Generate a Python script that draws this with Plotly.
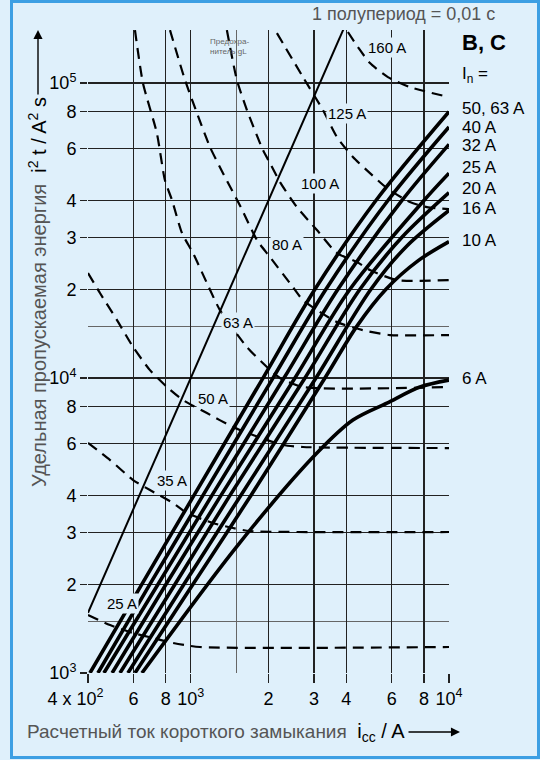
import plotly.graph_objects as go
import math

# ---------------- data ----------------
# Miniature circuit breakers B, C  (I_n)
MCB_names = ["50, 63 A", "40 A", "32 A", "25 A", "20 A", "16 A", "10 A", "6 A"]
MCB_63_x = [407, 647, 1029, 1904, 3026, 5212, 10000]
MCB_63_y = [1000, 2000, 4000, 10000, 20000, 40000, 80000]
MCB_40_x = [437, 695, 1115, 2081, 3338, 5800, 10000]
MCB_40_y = [1000, 2000, 4000, 10000, 20000, 40000, 71000]
MCB_32_x = [461, 747, 1208, 2296, 3715, 6573, 10000]
MCB_32_y = [1000, 2000, 4000, 10000, 20000, 40000, 62000]
MCB_25_x = [496, 802, 1309, 2532, 4134, 7997, 10000]
MCB_25_y = [1000, 2000, 4000, 10000, 20000, 40000, 49500]
MCB_20_x = [532, 869, 1418, 2768, 4520, 6573, 10000]
MCB_20_y = [1000, 2000, 4000, 10000, 20000, 30000, 42500]
MCB_16_x = [571, 941, 1562, 3053, 4985, 6856, 10000]
MCB_16_y = [1000, 2000, 4000, 10000, 20000, 28000, 37000]
MCB_10_x = [608, 1020, 1710, 3308, 4400, 5700, 7600, 10000]
MCB_10_y = [1000, 2000, 4000, 10000, 15000, 20000, 25000, 29000]
MCB_6_x = [647, 1523, 3080, 4245, 5749, 7717, 10000]
MCB_6_y = [1000, 2716, 5568, 7203, 8222, 9322, 9840]

# Fuses gL
FUSE_names = ["25 A", "35 A", "50 A", "63 A", "80 A", "100 A", "125 A", "160 A"]
F25_x = [400, 487, 598, 714, 853, 1086, 10000]
F25_y = [1573, 1454, 1366, 1314, 1264, 1225, 1225]
F35_x = [400, 487, 598, 695, 853, 967, 1219, 1456, 1695, 10000]
F35_y = [6023, 5272, 4511, 4172, 3771, 3486, 3225, 3101, 3029, 3006]
F50_x = [400, 445, 518, 598, 695, 809, 933, 1155, 1456, 1741, 2275, 2720, 10000]
F50_y = [22700, 19420, 15720, 12740, 10640, 9322, 8423, 7608, 6823, 6410, 5929, 5837, 5790]
F63_x = [608, 653, 739, 794, 846, 925, 1020, 1155, 1297, 1650, 1972, 2215, 2720, 10000]
F63_y = [151200, 100000, 67700, 46900, 40100, 31000, 26530, 20990, 17000, 12740, 10900, 10000, 9322, 9322]
F80_x = [831, 950, 1057, 1187, 1333, 1562, 1805, 2026, 2487, 2720, 3682, 4640, 5905, 10000]
F80_y = [151200, 102400, 79100, 60700, 49500, 37990, 29360, 25720, 20340, 18380, 15480, 14540, 13990, 13990]
F100_x = [1380, 1509, 1650, 1904, 2026, 2215, 2577, 3080, 3682, 4400, 4942, 6285, 10000]
F100_y = [151200, 102400, 81000, 59290, 53560, 46170, 37990, 31740, 26530, 24740, 23230, 21490, 21490]
F125_x = [2156, 2720, 3249, 3682, 4245, 4942, 5749, 7057, 8212, 10000]
F125_y = [147700, 104800, 81000, 65600, 56140, 49500, 44070, 39500, 37990, 37400]
F160_x = [4061, 4441, 4942, 5800, 7057, 10000]
F160_y = [149000, 132400, 116900, 104800, 96900, 89650]

# one half-period line (i^2 * 0.01 s)
HP_x = [400, 4000]
HP_y = [1600, 160000]

NB = "\u00a0"
X_tickvals = [400, 600, 800, 1000, 2000, 3000, 4000, 6000, 8000, 10000]
X_ticktext = ["4 x 10<sup>2</sup>" + NB * 5, "6", "8", "10<sup>3</sup>", "2", "3", "4", "6", "8", "10<sup>4</sup>"]
X_minor = [1500]
Y_tickvals = [1000, 2000, 3000, 4000, 6000, 8000, 10000, 20000, 30000, 40000, 60000, 80000, 100000]
Y_ticktext = ["10<sup>3</sup>", "2", "3", "4", "6", "8", "10<sup>4</sup>", "2", "3", "4", "6", "8", "10<sup>5</sup>"]
Y_minor = [1500, 15000]

# ---------------- styling ----------------
BG = "#dff0fb"
FRAME = "#3d9fe3"
FONT = "Liberation Sans Narrow, Arial Narrow, Liberation Sans, Arial, sans-serif"
TFONT = "Liberation Sans, Arial, sans-serif"
GRAYTXT = "#555555"

fig = go.Figure()

mcb = [(MCB_63_x, MCB_63_y), (MCB_40_x, MCB_40_y), (MCB_32_x, MCB_32_y), (MCB_25_x, MCB_25_y),
       (MCB_20_x, MCB_20_y), (MCB_16_x, MCB_16_y), (MCB_10_x, MCB_10_y), (MCB_6_x, MCB_6_y)]
fuses = [(F25_x, F25_y), (F35_x, F35_y), (F50_x, F50_y), (F63_x, F63_y),
         (F80_x, F80_y), (F100_x, F100_y), (F125_x, F125_y), (F160_x, F160_y)]

for name, (xs, ys) in zip(FUSE_names, fuses):
    fig.add_trace(go.Scatter(x=xs, y=ys, mode="lines", name="gL " + name,
                             line=dict(color="black", width=2.2, dash="11px,7px",
                                       shape="spline", smoothing=0.6),
                             hoverinfo="skip", showlegend=False))

fig.add_trace(go.Scatter(x=HP_x, y=HP_y, mode="lines", name="half period",
                         line=dict(color="black", width=2), cliponaxis=False,
                         hoverinfo="skip", showlegend=False))

for name, (xs, ys) in zip(MCB_names, mcb):
    fig.add_trace(go.Scatter(x=xs, y=ys, mode="lines", name=name,
                             line=dict(color="black", width=3.6, shape="spline", smoothing=0.9),
                             hoverinfo="skip", showlegend=False))

# ---------------- annotations ----------------
ann = []
# fuse labels (positions in log10 data units)
fuse_lbl_pos = [(2.733, 3.234), (2.927, 3.654), (3.086, 3.932), (3.183, 4.190),
                (3.372, 4.454), (3.500, 4.658), (3.605, 4.898), (3.760, 5.119)]
for name, (lx, ly) in zip(FUSE_names, fuse_lbl_pos):
    ann.append(dict(x=lx, y=ly, xref="x", yref="y", text=name, showarrow=False,
                    xanchor="center", yanchor="middle",
                    font=dict(family=FONT, size=15, color="black"),
                    bgcolor=BG, borderpad=1))

# right side labels for breakers
right_lbl_y = [4.915, 4.851, 4.790, 4.715, 4.644, 4.576, 4.468, 4.0]
for name, ly in zip(MCB_names, right_lbl_y):
    ann.append(dict(x=1.03, y=ly, xref="paper", yref="y", text=name, showarrow=False,
                    xanchor="left", yanchor="middle", font=dict(family=FONT, size=17, color="black")))
ann.append(dict(x=1.03, y=5.139, xref="paper", yref="y", text="<b>B, C</b>", showarrow=False,
                xanchor="left", yanchor="middle", font=dict(family=FONT, size=22, color="black")))
ann.append(dict(x=1.03, y=5.027, xref="paper", yref="y", text="I<sub>n</sub> =", showarrow=False,
                xanchor="left", yanchor="middle", font=dict(family=FONT, size=17, color="black")))

# small fuse note
ann.append(dict(x=0.393, y=0.975, xref="paper", yref="paper", text="Предохра-<br>нитель gL",
                showarrow=False, align="left", xanchor="center", yanchor="middle",
                font=dict(family=TFONT, size=8, color="#666666")))

# top label
ann.append(dict(x=0.875, y=1.025, xref="paper", yref="paper", text="1 полупериод = 0,01 с",
                xanchor="center", yanchor="middle",
                showarrow=False, font=dict(family=TFONT, size=18, color=GRAYTXT)))

# y axis title
ann.append(dict(x=-0.1385, y=0.899, xref="paper", yref="paper", textangle=-90,
                xanchor="center", yanchor="top", showarrow=False,
                text="Удельная пропускаемая энергия  "
                     "<span style='color:black;font-size:20px'>i<sup>2</sup> t / A<sup>2</sup> s</span>",
                font=dict(family=TFONT, size=20, color=GRAYTXT)))
ann.append(dict(x=-0.1385, y=1.0, xref="paper", yref="paper", ax=0, ay=66,
                axref="pixel", ayref="pixel", text="", showarrow=True,
                arrowhead=2, arrowsize=1.3, arrowwidth=1.4, arrowcolor="black"))

# x axis title
ann.append(dict(x=-0.1745, y=-0.0918, xref="paper", yref="paper", xanchor="left", yanchor="middle",
                showarrow=False,
                text="Расчетный ток короткого замыкания  "
                     "<span style='color:black;font-size:20px'>i<sub>cc</sub> / A</span>",
                font=dict(family=TFONT, size=19, color=GRAYTXT)))
ann.append(dict(x=1.0305, y=-0.0918, xref="paper", yref="paper", ax=-53, ay=0,
                axref="pixel", ayref="pixel", text="", showarrow=True,
                arrowhead=2, arrowsize=1.3, arrowwidth=1.4, arrowcolor="black"))

# ---------------- layout ----------------
W, H = 540, 760
L, R, T, B = 88, 91, 30, 87
pw, ph = W - L - R, H - T - B

def px_to_paper_x(px):
    return (px - L) / pw

def px_to_paper_y(py):
    return (H - B - py) / ph

fig.update_layout(
    width=W, height=H,
    margin=dict(l=L, r=R, t=T, b=B, autoexpand=False),
    paper_bgcolor=BG, plot_bgcolor=BG,
    showlegend=False,
    annotations=ann,
    shapes=[dict(type="rect", xref="paper", yref="paper",
                 x0=px_to_paper_x(11.5), x1=px_to_paper_x(538.5),
                 y0=px_to_paper_y(757.5), y1=px_to_paper_y(1.5),
                 line=dict(color=FRAME, width=3), fillcolor="rgba(0,0,0,0)", layer="above")],
    xaxis=dict(type="log", range=[math.log10(400), 4], tickvals=X_tickvals, ticktext=X_ticktext,
               showgrid=True, gridcolor="#222222", gridwidth=1.2, automargin=False, tickangle=0,
               ticks="outside", ticklen=9, tickcolor="#222222", tickwidth=1.2,
               tickfont=dict(family=FONT, size=18, color="black"),
               showline=False, zeroline=False, fixedrange=True,
               minor=dict(tickvals=X_minor, showgrid=True, gridcolor="#666666", gridwidth=1, ticks="")),
    yaxis=dict(type="log", range=[3, 5.18], tickvals=Y_tickvals, ticktext=Y_ticktext,
               showgrid=True, gridcolor="#222222", gridwidth=1.2, automargin=False, tickangle=0,
               ticks="outside", ticklen=7, tickcolor="#222222", tickwidth=1.2,
               tickfont=dict(family=FONT, size=18, color="black"),
               showline=False, zeroline=False, fixedrange=True,
               minor=dict(tickvals=Y_minor, showgrid=True, gridcolor="#666666", gridwidth=1, ticks="")),
)

fig.write_html("out.html",
               config={"displayModeBar": False, "staticPlot": True},
               post_script="document.body.style.margin='0';document.body.style.padding='0';"
                           "document.body.style.background='" + BG + "';")
